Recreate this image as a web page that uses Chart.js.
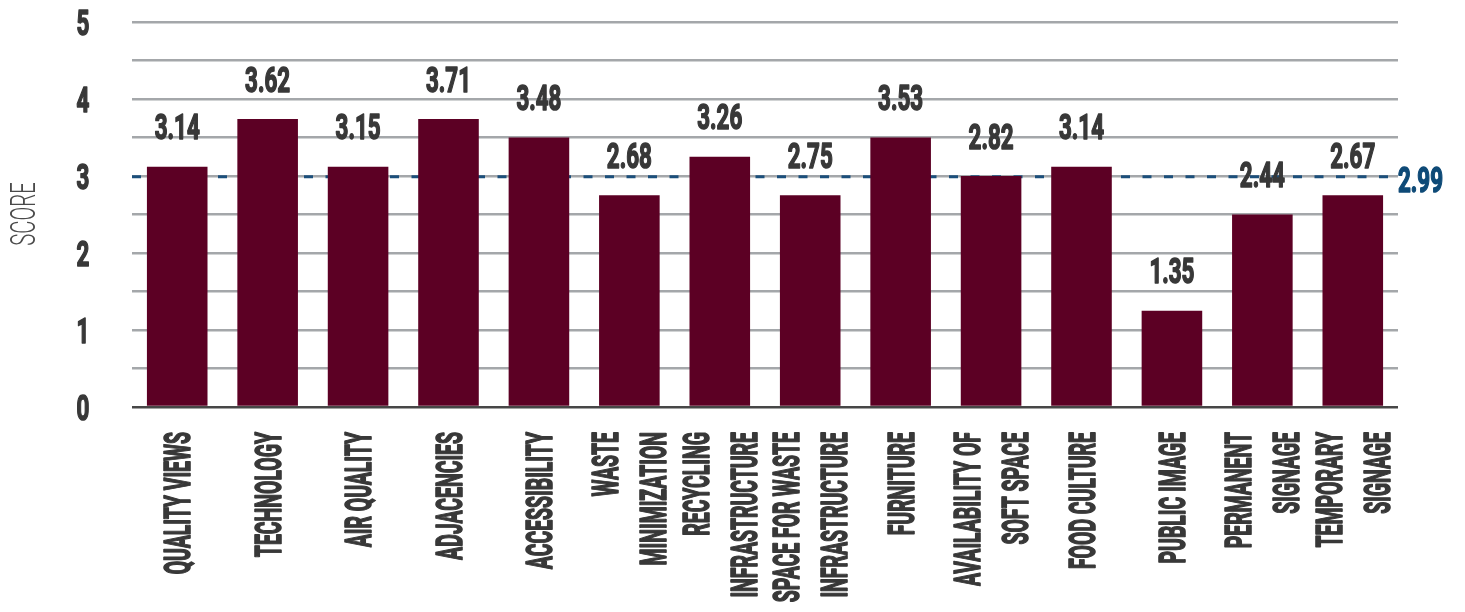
<!DOCTYPE html>
<html>
<head>
<meta charset="utf-8">
<script src="https://cdn.jsdelivr.net/npm/chart.js@4"></script>
<style>
  html, body { margin: 0; padding: 0; background: #fff; }
  canvas { display: block; }
</style>
</head>
<body>
<canvas id="chartScores" width="1465" height="612"></canvas>
<script>
// Category names (one entry per text line of the rotated label)
const categories = [
    ['QUALITY VIEWS'], ['TECHNOLOGY'], ['AIR QUALITY'], ['ADJACENCIES'], ['ACCESSIBILITY'],
    ['WASTE', 'MINIMIZATION'], ['RECYCLING', 'INFRASTRUCTURE'], ['SPACE FOR WASTE', 'INFRASTRUCTURE'],
    ['FURNITURE'], ['AVAILABILITY OF', 'SOFT SPACE'], ['FOOD CULTURE'], ['PUBLIC IMAGE'],
    ['PERMANENT', 'SIGNAGE'], ['TEMPORARY', 'SIGNAGE']
];

// Bar heights as drawn in the picture
const barHeights = [3.12, 3.74, 3.12, 3.74, 3.5, 2.75, 3.25, 2.75, 3.5, 3.0, 3.12, 1.25, 2.5, 2.75];

// Score text printed above each bar
const scoreLabels = ['3.14', '3.62', '3.15', '3.71', '3.48', '2.68', '3.26', '2.75', '3.53', '2.82', '3.14', '1.35', '2.44', '2.67'];

const yTicks = [0, 1, 2, 3, 4, 5];
const averageScore = 2.99;

const colors = {
    bar: '#5c0024',
    text: '#383838',
    grid: '#a4a7aa',
    axis: '#474747',
    avg: '#1b4f7b',
    avgText: '#0e4a77'
};

// draws text squeezed horizontally, to get the narrow poster look
function squeezeText(ctx, text, x, y, font, color, sx, align, rotate, heavy) {
    ctx.save();
    ctx.translate(x, y);
    if (rotate) ctx.rotate(-Math.PI / 2);
    ctx.scale(sx, 1);
    ctx.font = font;
    ctx.fillStyle = color;
    ctx.textAlign = align;
    ctx.textBaseline = 'alphabetic';
    ctx.fillText(text, 0, 0);
    if (heavy) {
        // thicken the strokes a bit, the original face is heavier than Roboto Bold
        ctx.strokeStyle = color;
        ctx.lineWidth = heavy;
        ctx.lineJoin = 'round';
        ctx.strokeText(text, 0, 0);
    }
    ctx.restore();
}

const labelPlugin = {
    id: 'labelPlugin',
    beforeDatasetsDraw(chart) {
        // Average line sits behind the bars
        const ctx = chart.ctx;
        const area = chart.chartArea;
        const yPix = chart.scales.y.getPixelForValue(averageScore);
        ctx.save();
        ctx.strokeStyle = colors.avg;
        ctx.lineWidth = 3;
        ctx.setLineDash([9, 12.5]);
        ctx.beginPath();
        ctx.moveTo(area.left, yPix);
        ctx.lineTo(area.right, yPix);
        ctx.stroke();
        ctx.restore();
        squeezeText(ctx, averageScore.toFixed(2), area.right, yPix + 15.5,
            'bold 35px Roboto', colors.avgText, 0.64, 'left', false, 1.6);
    },
    afterDatasetsDraw(chart) {
        const ctx = chart.ctx;
        const bars = chart.getDatasetMeta(0).data;
        bars.forEach((bar, i) => {
            squeezeText(ctx, scoreLabels[i], bar.x, bar.y - 27.5,
                'bold 35px Roboto', colors.text, 0.64, 'center', false, 1.6);
        });
    },
    afterDraw(chart) {
        const ctx = chart.ctx;
        const yScale = chart.scales.y;
        const bars = chart.getDatasetMeta(0).data;

        // y tick numbers
        yTicks.forEach(v => {
            squeezeText(ctx, String(v), 83, yScale.getPixelForValue(v) + 13,
                'bold 35px Roboto', colors.text, 0.64, 'center', false, 1.6);
        });

        // rotated category labels, lines side by side
        bars.forEach((bar, i) => {
            const lines = categories[i];
            lines.forEach((line, j) => {
                const off = (j - (lines.length - 1) / 2) * 48;
                squeezeText(ctx, line, bar.x + off + 13, 432,
                    'bold 36px Roboto', colors.text, 0.54, 'right', true, 1.6);
            });
        });

        // axis title
        squeezeText(ctx, 'SCORE', 22 + 12.5, 214,
            '300 35px Roboto', '#4a4a4a', 0.58, 'center', true, 0);
    }
};

Chart.defaults.font.family = 'Roboto, sans-serif';

new Chart(document.getElementById('chartScores'), {
    type: 'bar',
    data: {
        labels: categories,
        datasets: [{
            label: 'Score',
            data: barHeights,
            backgroundColor: colors.bar,
            borderWidth: 0,
            categoryPercentage: 1,
            barPercentage: 0.67
        }]
    },
    options: {
        responsive: false,
        animation: false,
        layout: { padding: { left: 132, right: 67, top: 22, bottom: 205 } },
        plugins: {
            legend: { display: false },
            tooltip: { enabled: false }
        },
        scales: {
            x: {
                grid: { display: false, drawTicks: false },
                border: { display: false },
                ticks: { display: false }
            },
            y: {
                min: 0,
                max: 5,
                grid: {
                    drawTicks: false,
                    color: c => c.tick.value === 0 ? colors.axis : colors.grid,
                    lineWidth: 2.5
                },
                border: { display: false },
                ticks: { display: false, stepSize: 0.5 }
            }
        }
    },
    plugins: [labelPlugin]
});
</script>
</body>
</html>
